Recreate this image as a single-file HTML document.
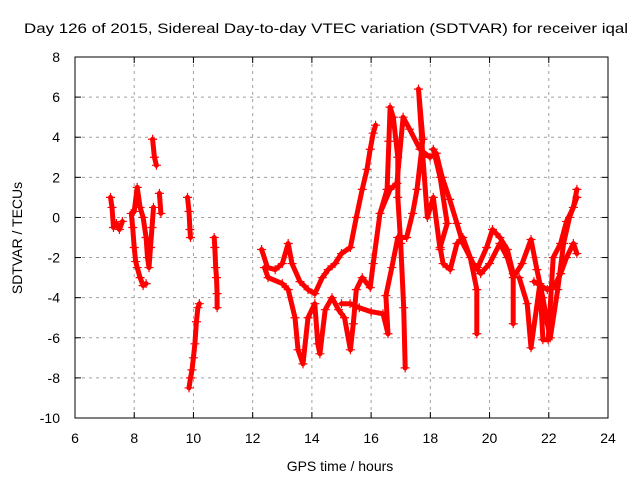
<!DOCTYPE html>
<html><head><meta charset="utf-8"><style>
body{margin:0;background:#fff}
svg{display:block;font-family:"Liberation Sans",sans-serif}
</style></head><body>
<svg id="chart" width="640" height="480" viewBox="0 0 640 480">
<text x="24" y="33" font-size="14" textLength="604" lengthAdjust="spacingAndGlyphs">Day 126 of 2015, Sidereal Day-to-day VTEC variation (SDTVAR) for receiver iqal</text>
<text x="340" y="471" font-size="14" text-anchor="middle">GPS time / hours</text>
<text x="0" y="0" font-size="14" text-anchor="middle" transform="translate(22,238) rotate(-90)">SDTVAR / TECUs</text>
<g id="grid"></g>
<g id="marks"></g>
<rect x="75" y="57" width="533" height="361" fill="none" stroke="#000" stroke-width="1"/>
<g id="ticks"></g>
</svg>
<script>
const xTicks=[6,8,10,12,14,16,18,20,22,24];
const yTicks=[8,6,4,2,0,-2,-4,-6,-8,-10];
const trackA=[[7.2,1.0],[7.25,0.5],[7.3,-0.5],[7.4,-0.3],[7.5,-0.6],[7.6,-0.2]];
const trackB=[[7.9,0.2],[7.95,-0.5],[8.0,-1.5],[8.05,-2.2],[8.1,-2.5],[8.2,-3.0],[8.3,-3.4],[8.4,-3.3]];
const trackC=[[8.0,0.3],[8.1,1.5],[8.2,0.5],[8.3,0.0],[8.4,-1.0],[8.45,-2.0],[8.5,-2.5],[8.55,-1.5],[8.6,-0.5],[8.65,0.5]];
const trackD=[[8.62,3.9],[8.68,3.0],[8.75,2.6]];
const trackE=[[8.85,1.2],[8.9,0.2]];
const trackF=[[9.8,1.0],[9.85,0.3],[9.88,-0.6],[9.9,-1.0]];
const trackG=[[9.85,-8.5],[9.9,-8.0],[9.95,-7.6],[10.0,-7.0],[10.05,-6.3],[10.1,-5.2],[10.15,-4.5],[10.2,-4.3]];
const trackH=[[10.7,-1.0],[10.72,-1.5],[10.75,-2.5],[10.78,-3.0],[10.8,-3.8],[10.8,-4.5]];
const trackI=[[12.3,-1.6],[12.5,-2.5],[12.76,-2.6],[13.0,-2.3],[13.2,-1.3],[13.33,-2.3],[13.6,-3.2],[13.87,-3.6],[14.1,-3.8],[14.35,-3.0],[14.55,-2.6],[14.78,-2.3],[15.0,-1.8],[15.3,-1.5],[15.5,0.0],[15.7,1.4],[15.86,2.4],[15.97,3.4],[16.07,4.2],[16.15,4.6]];
const trackJ=[[12.4,-2.5],[12.52,-3.0],[13.0,-3.3],[13.2,-3.6],[13.43,-5.0],[13.53,-6.6],[13.7,-7.3],[13.87,-5.0],[14.1,-4.3],[14.2,-6.3],[14.27,-6.8],[14.45,-4.6],[14.68,-4.0],[14.9,-4.6],[15.1,-5.0],[15.3,-6.6],[15.4,-5.3],[15.5,-3.6],[15.7,-3.0],[15.97,-3.5],[16.07,-2.3],[16.3,0.2],[16.54,1.4],[16.6,3.8],[16.64,5.5],[16.75,5.0],[16.9,3.0],[16.9,1.0],[17.0,-1.3],[17.1,-4.5],[17.15,-7.5]];
const trackK=[[15.0,-4.3],[15.29,-4.3],[15.6,-4.5],[16.0,-4.7],[16.4,-4.8],[16.57,-5.8],[16.5,-3.9],[16.7,-2.5],[16.9,-1.0],[17.2,-1.0],[17.4,0.2],[17.55,1.4],[17.75,3.9],[17.6,6.4],[17.75,3.0],[17.9,0.0],[18.1,1.0],[18.33,-1.6]];
const trackL=[[16.3,0.2],[16.64,1.4],[16.87,1.7],[17.08,5.0],[17.3,4.4],[17.65,3.4],[17.99,3.0],[18.2,3.2],[18.4,2.0],[18.65,0.9],[18.9,-0.3],[19.1,-1.3],[19.45,-2.3],[19.7,-2.8],[20.0,-2.3],[20.35,-1.3],[20.6,-2.0],[20.8,-3.0],[21.1,-2.3],[21.4,-1.1],[21.6,-2.6],[21.8,-4.0],[21.95,-5.3],[22.05,-6.0],[22.3,-3.6],[22.5,-1.3],[22.7,0.0],[22.95,1.0]];
const trackM=[[18.1,3.4],[18.33,2.0],[18.57,-0.3],[18.33,-1.5],[18.43,-2.3],[18.67,-2.6],[18.9,-1.3],[19.1,-1.0],[19.35,-2.0],[19.57,-3.6],[19.57,-5.8]];
const trackN=[[19.6,-2.5],[19.9,-1.5],[20.1,-0.6],[20.35,-1.0],[20.6,-1.6],[20.8,-2.8],[20.8,-5.3]];
const trackO=[[21.0,-3.0],[21.27,-4.3],[21.4,-6.5],[21.7,-3.3],[21.8,-6.1],[21.98,-6.1],[22.15,-2.0],[22.4,-1.3],[22.6,-0.2],[22.83,0.5],[22.95,1.4]];
const trackP=[[21.5,-3.2],[21.95,-3.6],[22.2,-3.4],[22.4,-2.8],[22.6,-2.0],[22.83,-1.3],[22.95,-1.8]];
const tracks=[trackA,trackB,trackC,trackD,trackE,trackF,trackG,trackH,trackI,trackJ,trackK,trackL,trackM,trackN,trackO,trackP];
const NS="http://www.w3.org/2000/svg";
const X0=75,X1=608,Y0=57,Y1=418;
function sx(t){return X0+(t-6)/(24-6)*(X1-X0);}
function sy(v){return Y0+(8-v)/(8+10)*(Y1-Y0);}
function mk(tag,attrs,parent){const e=document.createElementNS(NS,tag);for(const k in attrs)e.setAttribute(k,attrs[k]);parent.appendChild(e);return e;}
const grid=document.getElementById('grid'),ticks=document.getElementById('ticks'),marks=document.getElementById('marks');
xTicks.forEach(t=>{const x=sx(t);
 if(t>6&&t<24){const g=mk('line',{x1:x,x2:x,y1:Y0,y2:Y1,stroke:'#a0a0a0','stroke-dasharray':'3,4'},grid);
 
 }
 mk('line',{x1:x,x2:x,y1:Y1,y2:Y1-6,stroke:'#000'},ticks);
 mk('line',{x1:x,x2:x,y1:Y0,y2:Y0+6,stroke:'#000'},ticks);
 const l=mk('text',{x:x,y:443,'font-size':14,'text-anchor':'middle'},ticks);l.textContent=t;
 
 
});
yTicks.forEach(v=>{const y=sy(v);
 if(v<8&&v>-10){const g=mk('line',{x1:X0,x2:X1,y1:y,y2:y,stroke:'#a0a0a0','stroke-dasharray':'3,4'},grid);
 
 }
 mk('line',{x1:X0,x2:X0+6,y1:y,y2:y,stroke:'#000'},ticks);
 mk('line',{x1:X1,x2:X1-6,y1:y,y2:y,stroke:'#000'},ticks);
 const l=mk('text',{x:60,y:y+5,'font-size':14,'text-anchor':'end'},ticks);l.textContent=v;
 
 
});
tracks.forEach(tr=>{
 const pts=tr.map(p=>sx(p[0]).toFixed(1)+','+sy(p[1]).toFixed(1)).join(' ');
 const pl=mk('polyline',{points:pts,fill:'none',stroke:'#ff0000','stroke-width':5,'stroke-linejoin':'round','stroke-linecap':'round'},marks);
 
 
 tr.forEach(p=>{const x=sx(p[0]),y=sy(p[1]);
  const m=mk('path',{d:`M${x-4.5},${y}H${x+4.5}M${x},${y-4.5}V${y+4.5}`,stroke:'#ff0000','stroke-width':1.2},marks);
  
  
 });
});
</script>
</body></html>
